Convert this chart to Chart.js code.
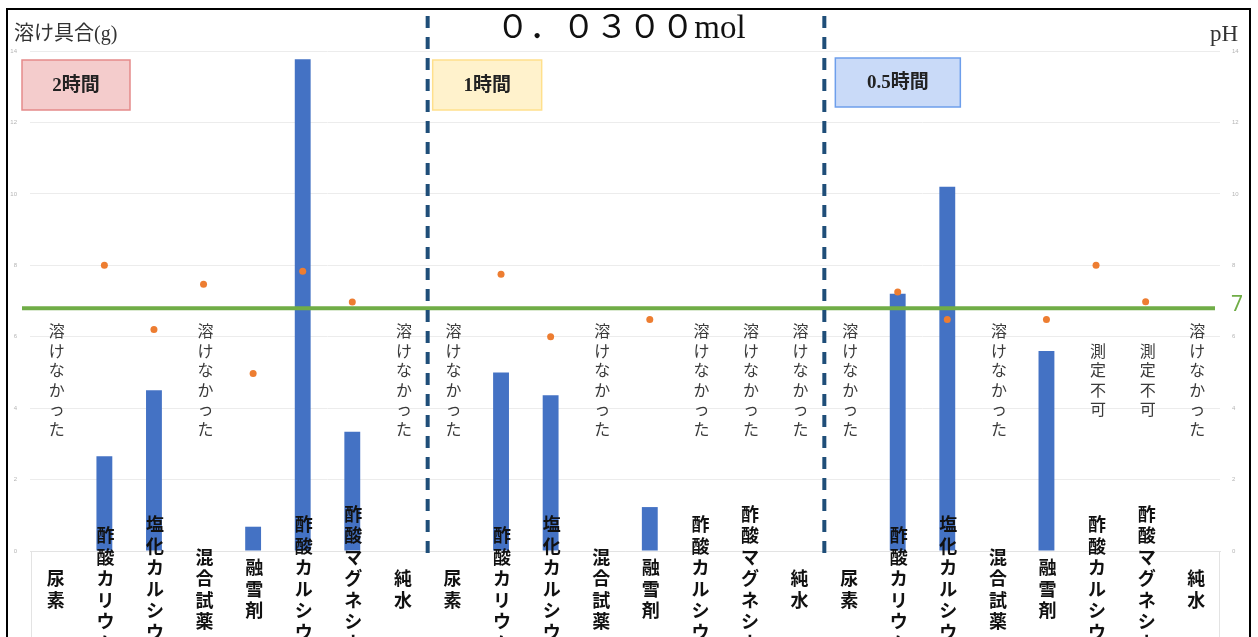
<!DOCTYPE html>
<html>
<head>
<meta charset="utf-8">
<script src="https://cdn.jsdelivr.net/npm/chart.js@4.4.0/dist/chart.umd.min.js"></script>
<style>
  html, body { margin: 0; padding: 0; background: #fff; }
  #wrap { position: relative; width: 1258px; height: 637px; }
</style>
</head>
<body>
<div id="wrap"><canvas id="solChart"></canvas></div>
<script>
// categories, 3 groups of 8 (2h / 1h / 0.5h)
const categories = [
  '尿素', '酢酸カリウム', '塩化カルシウム', '混合試薬', '融雪剤', '酢酸カルシウム', '酢酸マグネシウム', '純水',
  '尿素', '酢酸カリウム', '塩化カルシウム', '混合試薬', '融雪剤', '酢酸カルシウム', '酢酸マグネシウム', '純水',
  '尿素', '酢酸カリウム', '塩化カルシウム', '混合試薬', '融雪剤', '酢酸カルシウム', '酢酸マグネシウム', '純水'
];
// 溶け具合 (g)
const dissolved = [
  null, 2.65, 4.5, null, 0.68, 13.77, 3.34, null,
  null, 5.0, 4.36, null, 1.23, null, null, null,
  null, 7.2, 10.2, null, 5.6, null, null, null
];
// pH
const phValues = [
  null, 8.0, 6.2, 7.47, 4.97, 7.83, 6.97, null,
  null, 7.75, 6.0, null, 6.48, null, null, null,
  null, 7.25, 6.48, null, 6.48, 8.0, 6.98, null
];
const notes = [
  '溶けなかった', '', '', '溶けなかった', '', '', '', '溶けなかった',
  '溶けなかった', '', '', '溶けなかった', '', '溶けなかった', '溶けなかった', '溶けなかった',
  '溶けなかった', '', '', '溶けなかった', '', '測定不可', '測定不可', '溶けなかった'
];
const groupNames = ['2時間', '1時間', '0.5時間'];
const yTicks = [0, 2, 4, 6, 8, 10, 12, 14];
const neutralLine = 6.8;
const neutralLabel = '7';
const titleText = '０．０３００mol';

const JP = '"Noto Sans CJK JP"';
const SERIF_JP = '"Liberation Serif", "Noto Sans CJK JP"';

function stackText(ctx, text, x, yCenter, pitch) {
  const chars = Array.from(text);
  let y = yCenter - (chars.length - 1) / 2 * pitch;
  chars.forEach(c => { ctx.fillText(c, x, y); y += pitch; });
}

const decor = {
  id: 'decor',
  afterDatasetsDraw(chart) {
    const ctx = chart.ctx;
    const xs = chart.scales.x, y1 = chart.scales.y1;
    const ca = chart.chartArea;
    ctx.save();
    // neutral pH line
    const gy = y1.getPixelForValue(neutralLine);
    ctx.strokeStyle = '#70ad47';
    ctx.lineWidth = 4;
    ctx.beginPath();
    ctx.moveTo(ca.left - 8, gy);
    ctx.lineTo(ca.right - 5, gy);
    ctx.stroke();
    ctx.fillStyle = '#70ad47';
    ctx.font = '21px "Noto Sans"';
    ctx.textAlign = 'left';
    ctx.textBaseline = 'middle';
    ctx.fillText(neutralLabel, ca.right + 11, gy - 3);
    // group separators
    ctx.strokeStyle = '#1f4e79';
    ctx.lineWidth = 4;
    ctx.setLineDash([12, 9]);
    [8, 16].forEach(i => {
      const x = (xs.getPixelForValue(i - 1) + xs.getPixelForValue(i)) / 2 + 1;
      ctx.beginPath();
      ctx.moveTo(x, 16);
      ctx.lineTo(x, ca.bottom + 5);
      ctx.stroke();
    });
    ctx.restore();
  },
  afterDraw(chart) {
    const ctx = chart.ctx;
    const xs = chart.scales.x;
    const ca = chart.chartArea;
    ctx.save();
    // box below axis
    ctx.strokeStyle = '#e3e3e3';
    ctx.lineWidth = 1;
    ctx.beginPath();
    ctx.moveTo(ca.left + 1.5, ca.bottom);
    ctx.lineTo(ca.left + 1.5, chart.height);
    ctx.moveTo(ca.right - 0.5, ca.bottom);
    ctx.lineTo(ca.right - 0.5, chart.height);
    ctx.stroke();

    // notes
    ctx.fillStyle = '#3a3a3a';
    ctx.font = '16px ' + JP;
    ctx.textAlign = 'center';
    ctx.textBaseline = 'middle';
    notes.forEach((n, i) => {
      if (n) stackText(ctx, n, xs.getPixelForValue(i) + 2, 380, 19.5);
    });

    // category labels
    ctx.fillStyle = '#111';
    ctx.font = 'bold 18px ' + JP;
    categories.forEach((c, i) => {
      stackText(ctx, c, xs.getPixelForValue(i) + 1, 589, 21.5);
    });

    // group boxes
    const d1 = (xs.getPixelForValue(7) + xs.getPixelForValue(8)) / 2;
    const d2 = (xs.getPixelForValue(15) + xs.getPixelForValue(16)) / 2;
    const boxes = [
      { x: ca.left - 8, y: 60, w: 108, h: 50, fill: '#f4cccc', line: '#e58a8a' },
      { x: d1 + 6, y: 60, w: 109, h: 50, fill: '#fff2cc', line: '#ffe08c' },
      { x: d2 + 12, y: 58, w: 125, h: 49, fill: '#c9daf8', line: '#6d9eeb' }
    ];
    boxes.forEach((b, i) => {
      ctx.fillStyle = b.fill;
      ctx.fillRect(b.x, b.y, b.w, b.h);
      ctx.strokeStyle = b.line;
      ctx.lineWidth = 1.5;
      ctx.strokeRect(b.x, b.y, b.w, b.h);
      ctx.fillStyle = '#222';
      ctx.font = 'bold 19px ' + SERIF_JP;
      ctx.textAlign = 'center';
      ctx.textBaseline = 'middle';
      ctx.fillText(groupNames[i], b.x + b.w / 2, b.y + b.h / 2 + 1);
    });

    // title + axis titles
    ctx.fillStyle = '#111';
    ctx.font = '33px ' + SERIF_JP;
    ctx.textAlign = 'center';
    ctx.fillText(titleText, 621, 29);
    ctx.fillStyle = '#333';
    ctx.font = '20px ' + SERIF_JP;
    ctx.textAlign = 'left';
    ctx.fillText('溶け具合(g)', 14, 35);
    ctx.font = '23px "Liberation Serif"';
    ctx.textAlign = 'right';
    ctx.fillText('pH', 1238, 35);

    // frame
    ctx.strokeStyle = '#000';
    ctx.lineWidth = 2;
    ctx.strokeRect(7, 9, 1243, 640);
    ctx.restore();
  }
};

new Chart(document.getElementById('solChart'), {
  type: 'bar',
  data: {
    labels: categories,
    datasets: [
      {
        label: '溶け具合(g)',
        data: dissolved,
        backgroundColor: '#4472c4',
        barPercentage: 0.32,
        categoryPercentage: 1,
        yAxisID: 'y',
        order: 2
      },
      {
        type: 'line',
        label: 'pH',
        data: phValues,
        showLine: false,
        pointRadius: 3.5,
        pointBorderWidth: 0,
        pointBackgroundColor: '#ed7d31',
        yAxisID: 'y1',
        order: 1
      }
    ]
  },
  options: {
    responsive: true,
    maintainAspectRatio: false,
    animation: false,
    layout: { padding: { top: 51, bottom: 86, left: 0, right: 0 } },
    plugins: { legend: { display: false }, tooltip: { enabled: false } },
    scales: {
      x: {
        offset: true,
        grid: { display: false },
        border: { display: true, color: '#e3e3e3' },
        ticks: { display: false },
        afterFit: s => { s.height = 0; }
      },
      y: {
        position: 'left',
        min: 0, max: 14,
        afterBuildTicks: s => { s.ticks = yTicks.map(v => ({ value: v })); },
        grid: { color: '#ececec', drawTicks: false },
        border: { display: false },
        ticks: { color: '#b5b5b5', font: { size: 6 }, padding: 13 },
        afterFit: s => { s.width = 30; }
      },
      y1: {
        position: 'right',
        min: 0, max: 14,
        afterBuildTicks: s => { s.ticks = yTicks.map(v => ({ value: v })); },
        grid: { display: false, drawTicks: false },
        border: { display: false },
        ticks: { color: '#b5b5b5', font: { size: 6 }, padding: 12 },
        afterFit: s => { s.width = 38; }
      }
    }
  },
  plugins: [decor]
});
</script>
</body>
</html>
